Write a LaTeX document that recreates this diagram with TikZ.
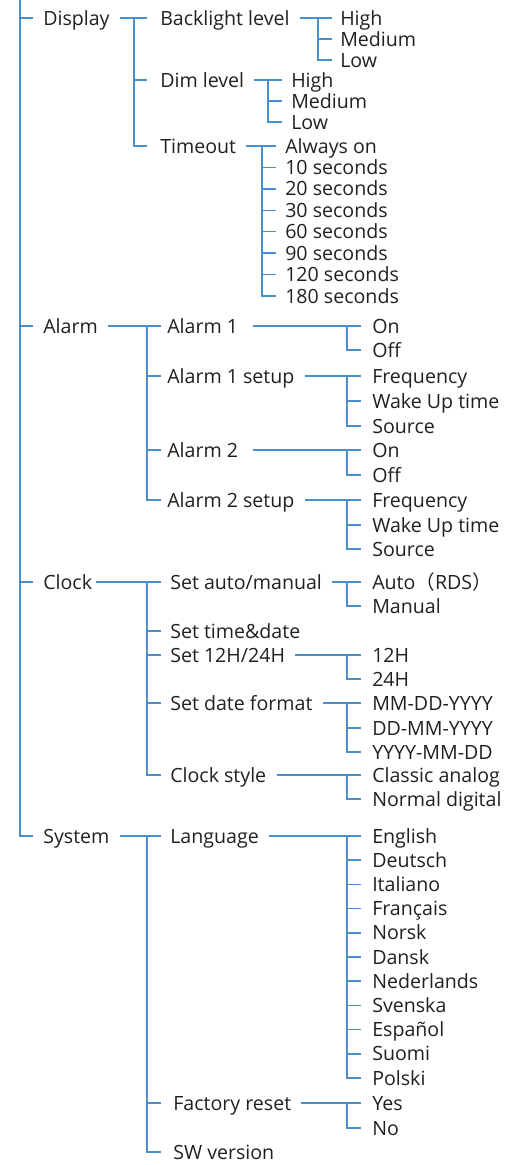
\documentclass[tikz,border=0pt]{standalone}
\usepackage{fontspec}
\setmainfont{Open Sans}
\newfontfamily\cjk{Noto Sans CJK SC}
\usepackage{tikz}
\usetikzlibrary{positioning}

\definecolor{wire}{HTML}{4A8FCB}
\definecolor{ink}{HTML}{231F20}

\tikzset{
  item/.style={anchor=west, inner sep=0pt, text height=10.5pt, text depth=0pt,
    text=ink, font=\fontsize{14.7pt}{16pt}\selectfont},
  link/.style={draw=wire, line width=1.1pt, shorten <=7.5pt, shorten >=#1},
  link/.default=7.5pt,
  bus/.style={link=#1, shorten <=0pt},
  bus/.default=7.5pt
}

\begin{document}
\begin{tikzpicture}[x=0.75pt, y=-0.75pt]
    \useasboundingbox (0,0) rectangle (530,1165);
    % Bus positions
    \coordinate (top) at (20,0);
    \coordinate (dbus) at (134,0);
    \coordinate (bbus) at (318,0);
    \coordinate (mbus) at (268,0);
    \coordinate (tbus) at (262,0);
    \coordinate (sbus) at (147,0);
    \coordinate (lbus) at (347,0);
    % Main menu
    \node[item] (display) at (43,18) {Display};
    \node[item] (alarm) at (43,326) {Alarm};
    \node[item] (clock) at (43,582) {Clock};
    \node[item] (system) at (43,836) {System};
    \draw[bus] (top) |- (system);
    \draw[bus] (display.west -| top) -- (display);
    \draw[bus] (alarm.west -| top) -- (alarm);
    \draw[bus] (clock.west -| top) -- (clock);
    % Display submenu
    \node[item] (backlight) at (160,18) {Backlight level};
    \node[item] (dim) at (160,80) {Dim level};
    \node[item] (timeout) at (160,146) {Timeout};
    \draw[link=9.75pt] (display) -- (backlight);
    \draw[bus=9.75pt] (backlight.west -| dbus) |- (timeout);
    \draw[bus=9.75pt] (dim.west -| dbus) -- (dim);
    % Backlight level
    \node[item] (bhigh) at (340,18) {High};
    \node[item] (bmed) at (340,39) {Medium};
    \node[item] (blow) at (340,60) {Low};
    \draw[link=6pt] (backlight) -- (bhigh);
    \draw[bus=6pt] (bhigh.west -| bbus) |- (blow);
    \draw[bus=6pt] (bmed.west -| bbus) -- (bmed);
    % Dim level
    \node[item] (dhigh) at (291,80) {High};
    \node[item] (dmed) at (291,101) {Medium};
    \node[item] (dlow) at (291,122) {Low};
    \draw[link=6.75pt] (dim) -- (dhigh);
    \draw[bus=6.75pt] (dhigh.west -| mbus) |- (dlow);
    \draw[bus=6.75pt] (dmed.west -| mbus) -- (dmed);
    % Timeout
    \node[item] (ton) at (285,146) {Always on};
    \node[item] (t10) at (285,167.4) {10 seconds};
    \node[item] (t20) at (285,188.9) {20 seconds};
    \node[item] (t30) at (285,210.3) {30 seconds};
    \node[item] (t60) at (285,231.7) {60 seconds};
    \node[item] (t90) at (285,253.1) {90 seconds};
    \node[item] (t120) at (285,274.6) {120 seconds};
    \node[item] (t180) at (285,296) {180 seconds};
    \draw[link=6.75pt] (timeout) -- (ton);
    \draw[bus=6.75pt] (ton.west -| tbus) |- (t180);
    \draw[bus=6.75pt] (t10.west -| tbus) -- (t10);
    \draw[bus=6.75pt] (t20.west -| tbus) -- (t20);
    \draw[bus=6.75pt] (t30.west -| tbus) -- (t30);
    \draw[bus=6.75pt] (t60.west -| tbus) -- (t60);
    \draw[bus=6.75pt] (t90.west -| tbus) -- (t90);
    \draw[bus=6.75pt] (t120.west -| tbus) -- (t120);
    % Alarm submenu
    \node[item] (alarma) at (167,326) {Alarm 1};
    \node[item] (alarmas) at (167,376) {Alarm 1 setup};
    \node[item] (alarmb) at (167,450) {Alarm 2};
    \node[item] (alarmbs) at (167,500) {Alarm 2 setup};
    \draw[link=4.5pt] (alarm) -- (alarma);
    \draw[bus=4.5pt] (alarma.west -| sbus) |- (alarmbs);
    \draw[bus=4.5pt] (alarmas.west -| sbus) -- (alarmas);
    \draw[bus=4.5pt] (alarmb.west -| sbus) -- (alarmb);
    % Alarm 1
    \node[item] (aon) at (372,326) {On};
    \node[item] (aoff) at (372,350) {Off};
    \draw[link=8.25pt, shorten <=11pt] (alarma) -- (aon);
    \draw[bus=8.25pt] (aon.west -| lbus) |- (aoff);
    % Alarm 1 setup
    \node[item] (afreq) at (372,376) {Frequency};
    \node[item] (awake) at (372,401) {Wake Up time};
    \node[item] (asrc) at (372,426) {Source};
    \draw[link=8.25pt] (alarmas) -- (afreq);
    \draw[bus=8.25pt] (afreq.west -| lbus) |- (asrc);
    \draw[bus=8.25pt] (awake.west -| lbus) -- (awake);
    % Alarm 2
    \node[item] (bon) at (372,450) {On};
    \node[item] (boff) at (372,475) {Off};
    \draw[link=8.25pt, shorten <=11pt] (alarmb) -- (bon);
    \draw[bus=8.25pt] (bon.west -| lbus) |- (boff);
    % Alarm 2 setup
    \node[item] (bfreq) at (372,500) {Frequency};
    \node[item] (bwake) at (372,525) {Wake Up time};
    \node[item] (bsrc) at (372,549) {Source};
    \draw[link=8.25pt] (alarmbs) -- (bfreq);
    \draw[bus=8.25pt] (bfreq.west -| lbus) |- (bsrc);
    \draw[bus=8.25pt] (bwake.west -| lbus) -- (bwake);
    % Clock submenu
    \node[item] (setauto) at (170,582) {Set auto/manual};
    \node[item] (settime) at (170,631) {Set time\&date};
    \node[item] (sethour) at (170,655) {Set 12H/24H};
    \node[item] (setdate) at (170,703) {Set date format};
    \node[item] (cstyle) at (170,775) {Clock style};
    \draw[link=6.75pt, shorten <=2.5pt] (clock) -- (setauto);
    \draw[bus=6.75pt] (setauto.west -| sbus) |- (cstyle);
    \draw[bus=6.75pt] (settime.west -| sbus) -- (settime);
    \draw[bus=6.75pt] (sethour.west -| sbus) -- (sethour);
    \draw[bus=6.75pt] (setdate.west -| sbus) -- (setdate);
    % Set auto/manual
    \node[item] (cauto) at (372,582) {Auto{\cjk（}RDS{\cjk）}};
    \node[item] (cman) at (372,606) {Manual};
    \draw[link=8.25pt] (setauto) -- (cauto);
    \draw[bus=8.25pt] (cauto.west -| lbus) |- (cman);
    % Set 12H/24H
    \node[item] (h12) at (372,655) {12H};
    \node[item] (h24) at (372,679) {24H};
    \draw[link=8.25pt] (sethour) -- (h12);
    \draw[bus=8.25pt] (h12.west -| lbus) |- (h24);
    % Set date format
    \node[item] (fmda) at (372,703) {MM-DD-YYYY};
    \node[item] (fdma) at (372,728) {DD-MM-YYYY};
    \node[item] (fymd) at (372,752) {YYYY-MM-DD};
    \draw[link=8.25pt] (setdate) -- (fmda);
    \draw[bus=8.25pt] (fmda.west -| lbus) |- (fymd);
    \draw[bus=8.25pt] (fdma.west -| lbus) -- (fdma);
    % Clock style
    \node[item] (sanalog) at (372,775) {Classic analog};
    \node[item] (sdigital) at (372,799) {Normal digital};
    \draw[link=8.25pt] (cstyle) -- (sanalog);
    \draw[bus=8.25pt] (sanalog.west -| lbus) |- (sdigital);
    % System submenu
    \node[item] (lang) at (170,836) {Language};
    \node[item] (freset) at (173,1103) {Factory reset};
    \node[item] (swver) at (173,1152) {SW version};
    \draw[link=6.75pt] (system) -- (lang);
    \draw[bus=9pt] (lang.west -| sbus) |- (swver);
    \draw[bus=9pt] (freset.west -| sbus) -- (freset);
    % Language
    \node[item] (en) at (372,836) {English};
    \node[item] (de) at (372,860.2) {Deutsch};
    \node[item] (it) at (372,884.4) {Italiano};
    \node[item] (fr) at (372,908.6) {Français};
    \node[item] (no) at (372,932.8) {Norsk};
    \node[item] (da) at (372,957) {Dansk};
    \node[item] (nl) at (372,981.2) {Nederlands};
    \node[item] (sv) at (372,1005.4) {Svenska};
    \node[item] (es) at (372,1029.6) {Español};
    \node[item] (fi) at (372,1053.8) {Suomi};
    \node[item] (pl) at (372,1078) {Polski};
    \draw[link=8.25pt] (lang) -- (en);
    \draw[bus=8.25pt] (en.west -| lbus) |- (pl);
    \draw[bus=8.25pt] (de.west -| lbus) -- (de);
    \draw[bus=8.25pt] (it.west -| lbus) -- (it);
    \draw[bus=8.25pt] (fr.west -| lbus) -- (fr);
    \draw[bus=8.25pt] (no.west -| lbus) -- (no);
    \draw[bus=8.25pt] (da.west -| lbus) -- (da);
    \draw[bus=8.25pt] (nl.west -| lbus) -- (nl);
    \draw[bus=8.25pt] (sv.west -| lbus) -- (sv);
    \draw[bus=8.25pt] (es.west -| lbus) -- (es);
    \draw[bus=8.25pt] (fi.west -| lbus) -- (fi);
    % Factory reset
    \node[item] (yes) at (372,1103) {Yes};
    \node[item] (nope) at (372,1128) {No};
    \draw[link=8.25pt] (freset) -- (yes);
    \draw[bus=8.25pt] (yes.west -| lbus) |- (nope);
\end{tikzpicture}
\end{document}
